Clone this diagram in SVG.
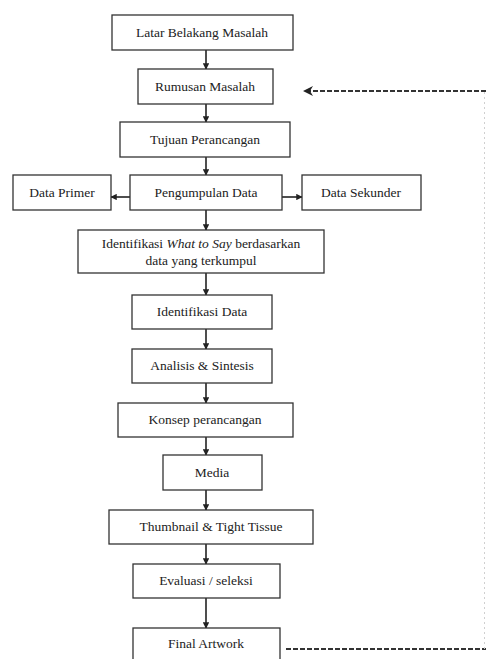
<svg xmlns="http://www.w3.org/2000/svg" width="486" height="659" viewBox="0 0 486 659">
<defs>
<style>
.box{fill:#fff;stroke:#333;stroke-width:1.3}
.t{font-family:"Liberation Serif","Times New Roman","DejaVu Serif",serif;font-size:13.5px;fill:#222;text-anchor:middle}
.c{stroke:#222;stroke-width:1.6;fill:none}
.d{stroke:#333;stroke-width:2;fill:none;stroke-dasharray:5,2}
</style>
<marker id="ah" viewBox="0 0 10 10" refX="9" refY="5" markerWidth="4" markerHeight="4" orient="auto">
<path d="M0,0L10,5L0,10z" fill="#222"/>
</marker>
<marker id="ah2" viewBox="0 0 10 10" refX="9" refY="5" markerWidth="5" markerHeight="5" orient="auto">
<path d="M0,0L10,5L0,10L3,5z" fill="#222"/>
</marker>
</defs>
<rect width="486" height="659" fill="#fff"/>
<g id="connectors">
<line class="c" x1="206" y1="50" x2="206" y2="69" marker-end="url(#ah)"/>
<line class="c" x1="206" y1="104" x2="206" y2="122" marker-end="url(#ah)"/>
<line class="c" x1="206" y1="157" x2="206" y2="175" marker-end="url(#ah)"/>
<line class="c" x1="130" y1="197" x2="111" y2="197" marker-end="url(#ah)"/>
<line class="c" x1="282" y1="197" x2="302" y2="197" marker-end="url(#ah)"/>
<line class="c" x1="206" y1="210" x2="206" y2="230" marker-end="url(#ah)"/>
<line class="c" x1="206" y1="273" x2="206" y2="295" marker-end="url(#ah)"/>
<line class="c" x1="206" y1="329" x2="206" y2="349" marker-end="url(#ah)"/>
<line class="c" x1="206" y1="383" x2="206" y2="403" marker-end="url(#ah)"/>
<line class="c" x1="206" y1="437" x2="206" y2="455" marker-end="url(#ah)"/>
<line class="c" x1="206" y1="490" x2="206" y2="510" marker-end="url(#ah)"/>
<line class="c" x1="206" y1="544" x2="206" y2="564" marker-end="url(#ah)"/>
<line class="c" x1="206" y1="598" x2="206" y2="628" marker-end="url(#ah)"/>
<line class="d" x1="286" y1="649" x2="486" y2="649"/>
<line x1="484.5" y1="92" x2="484.5" y2="649" stroke="#d0d0d0" stroke-width="1" stroke-dasharray="2,3"/>
<line class="d" x1="486" y1="91" x2="304" y2="91" marker-end="url(#ah2)"/>
</g>
<g id="n1"><rect class="box" x="112" y="15" width="181" height="35"/><text class="t" x="202" y="37">Latar Belakang Masalah</text></g>
<g id="n2"><rect class="box" x="138" y="69" width="135" height="35"/><text class="t" x="205" y="91">Rumusan Masalah</text></g>
<g id="n3"><rect class="box" x="120" y="122" width="170" height="35"/><text class="t" x="205" y="144">Tujuan Perancangan</text></g>
<g id="n4"><rect class="box" x="130" y="175" width="152" height="35"/><text class="t" x="206" y="197">Pengumpulan Data</text></g>
<g id="n5"><rect class="box" x="13" y="175" width="98" height="35"/><text class="t" x="62" y="197">Data Primer</text></g>
<g id="n6"><rect class="box" x="302" y="175" width="119" height="35"/><text class="t" x="361" y="197">Data Sekunder</text></g>
<g id="n7"><rect class="box" x="78" y="230" width="246" height="43"/><text class="t" x="201" y="248">Identifikasi <tspan font-style="italic">What to Say</tspan> berdasarkan</text><text class="t" x="201" y="265">data yang terkumpul</text></g>
<g id="n8"><rect class="box" x="132" y="295" width="140" height="34"/><text class="t" x="202" y="316">Identifikasi Data</text></g>
<g id="n9"><rect class="box" x="132" y="349" width="140" height="34"/><text class="t" x="202" y="370">Analisis &amp; Sintesis</text></g>
<g id="n10"><rect class="box" x="118" y="403" width="175" height="34"/><text class="t" x="205" y="424">Konsep perancangan</text></g>
<g id="n11"><rect class="box" x="163" y="455" width="99" height="35"/><text class="t" x="212" y="477">Media</text></g>
<g id="n12"><rect class="box" x="109" y="510" width="204" height="34"/><text class="t" x="211" y="531">Thumbnail &amp; Tight Tissue</text></g>
<g id="n13"><rect class="box" x="133" y="564" width="147" height="34"/><text class="t" x="206" y="585">Evaluasi / seleksi</text></g>
<g id="n14"><rect class="box" x="133" y="628" width="147" height="40"/><text class="t" x="206" y="648">Final Artwork</text></g>
</svg>
